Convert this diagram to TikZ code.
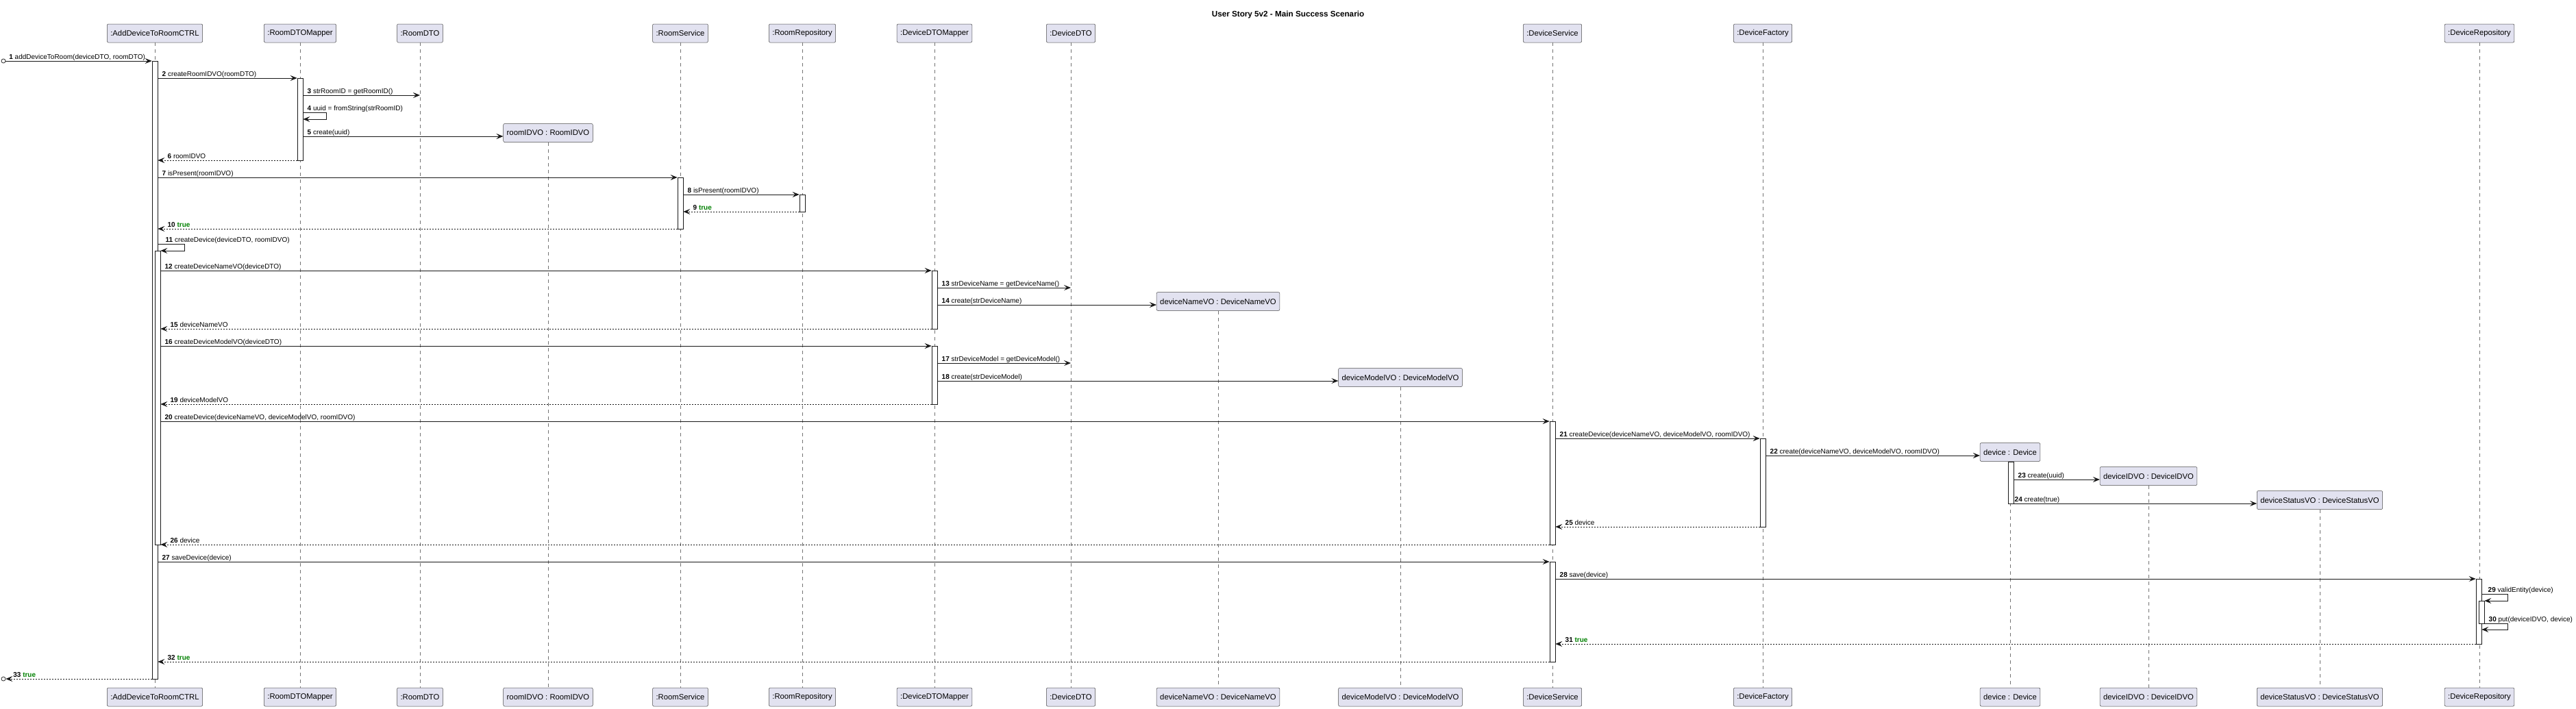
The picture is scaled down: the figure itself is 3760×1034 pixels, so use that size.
\documentclass[tikz,border=0pt]{standalone}
\usepackage{fontspec}
\setmainfont{Liberation Sans}
\usetikzlibrary{arrows.meta}
\definecolor{boxfill}{HTML}{E2E2F0}
\definecolor{ink}{HTML}{181818}
\definecolor{okgreen}{HTML}{008000}
\newcommand{\ok}{\textcolor{okgreen}{\textbf{true}}}
\begin{document}
\begin{tikzpicture}[x=1pt,y=-1pt]
        \tikzset{
            part/.style={draw=ink!80,fill=boxfill,line width=0.5pt,rounded corners=2pt,minimum height=27pt,inner xsep=5pt,font=\fontsize{11.3}{13}\selectfont},
            bar/.style={draw=ink,fill=white,line width=0.6pt,minimum width=8pt,inner sep=0pt,anchor=north},
            life/.style={draw=ink!60,line width=0.4pt,dash pattern=on 5pt off 5pt},
            call/.style={draw=ink,line width=0.75pt,-{Stealth[length=10pt,width=8pt,inset=4pt]}},
            ret/.style={call,dash pattern=on 2pt off 2pt},
            msg/.style={anchor=base west,inner sep=0pt,xshift=6pt,yshift=3pt,font=\fontsize{10}{12}\selectfont},
            msgr/.style={anchor=base west,inner sep=0pt,xshift=14pt,yshift=3pt,font=\fontsize{10}{12}\selectfont},
            found/.style={draw=ink,line width=0.7pt,circle,minimum size=6pt,inner sep=0pt}
        }
        \useasboundingbox (0,0) rectangle (3760,1034);
        \node[font=\bfseries\fontsize{11.7}{14}\selectfont] (title) at (1880,21) {User Story 5v2 - Main Success Scenario};
        \node[part] (ctrl) at (226,48.5) {:AddDeviceToRoomCTRL};
        \node[part] (rmap) at (438,48.5) {:RoomDTOMapper};
        \node[part] (rdto) at (613,48.5) {:RoomDTO};
        \node[part] (ridvo) at (800,194) {roomIDVO : RoomIDVO};
        \node[part] (rsvc) at (993,48.5) {:RoomService};
        \node[part] (rrepo) at (1171,48.5) {:RoomRepository};
        \node[part] (dmap) at (1364,48.5) {:DeviceDTOMapper};
        \node[part] (ddto) at (1563,48.5) {:DeviceDTO};
        \node[part] (dnvo) at (1778,440) {deviceNameVO : DeviceNameVO};
        \node[part] (dmvo) at (2044,551) {deviceModelVO : DeviceModelVO};
        \node[part] (dsvc) at (2266,48.5) {:DeviceService};
        \node[part] (dfac) at (2573,48.5) {:DeviceFactory};
        \node[part] (dev) at (2934,660) {device : Device};
        \node[part] (didvo) at (3136,695) {deviceIDVO : DeviceIDVO};
        \node[part] (dsvo) at (3386,730) {deviceStatusVO : DeviceStatusVO};
        \node[part] (drepo) at (3619,48.5) {:DeviceRepository};
        \node[part] (ctrlb) at (226,1017.5) {:AddDeviceToRoomCTRL};
        \node[part] (rmapb) at (438,1017.5) {:RoomDTOMapper};
        \node[part] (rdtob) at (613,1017.5) {:RoomDTO};
        \node[part] (ridvob) at (800,1017.5) {roomIDVO : RoomIDVO};
        \node[part] (rsvcb) at (993,1017.5) {:RoomService};
        \node[part] (rrepob) at (1171,1017.5) {:RoomRepository};
        \node[part] (dmapb) at (1364,1017.5) {:DeviceDTOMapper};
        \node[part] (ddtob) at (1563,1017.5) {:DeviceDTO};
        \node[part] (dnvob) at (1778,1017.5) {deviceNameVO : DeviceNameVO};
        \node[part] (dmvob) at (2044,1017.5) {deviceModelVO : DeviceModelVO};
        \node[part] (dsvcb) at (2266,1017.5) {:DeviceService};
        \node[part] (dfacb) at (2573,1017.5) {:DeviceFactory};
        \node[part] (devb) at (2934,1017.5) {device : Device};
        \node[part] (didvob) at (3136,1017.5) {deviceIDVO : DeviceIDVO};
        \node[part] (dsvob) at (3386,1017.5) {deviceStatusVO : DeviceStatusVO};
        \node[part] (drepob) at (3619,1017.5) {:DeviceRepository};
        \foreach \p in {ctrl,rmap,rdto,ridvo,rsvc,rrepo,dmap,ddto,dnvo,dmvo,dsvc,dfac,dev,didvo,dsvo,drepo}
            \draw[life] (\p) -- (\p b);
        \node[bar,minimum height=902pt] (actl) at (226,89) {};
        \node[bar,minimum height=429pt] (actl2) at (230,366) {};
        \node[bar,minimum height=120pt] (armap) at (438,114) {};
        \node[bar,minimum height=75pt] (arsvc) at (993,259) {};
        \node[bar,minimum height=25pt] (arrepo) at (1171,284) {};
        \node[bar,minimum height=85pt] (admap) at (1364,395) {};
        \node[bar,minimum height=85pt] (admap2) at (1364,505) {};
        \node[bar,minimum height=180pt] (adsvc) at (2266,615) {};
        \node[bar,minimum height=129pt] (adfac) at (2573,640) {};
        \node[bar,minimum height=61pt] (adev) at (2935,674) {};
        \node[bar,minimum height=146pt] (adsvc2) at (2266,820) {};
        \node[bar,minimum height=95pt] (adrepo) at (3618,845) {};
        \node[bar,minimum height=33pt] (adrepo2) at (3622,877) {};
        \node[found] (start) at (5,89) {};
        \node[found] (stop) at (5,991) {};
        \draw[call] (start) node[msg,xshift=2pt]{\textbf{1} addDeviceToRoom(deviceDTO, roomDTO)} -- (actl.west |- 0,89);
        \draw[call] (actl.east |- 0,114) node[msg]{\textbf{2} createRoomIDVO(roomDTO)} -- (armap.west |- 0,114);
        \draw[call] (armap.east |- 0,139) node[msg]{\textbf{3} strRoomID = getRoomID()} -- (rdto |- 0,139);
        \draw[call] (armap.east |- 0,164) node[msg]{\textbf{4} uuid = fromString(strRoomID)} -- ++(34,0) -- ++(0,10) -- (armap.east |- 0,174);
        \draw[call] (armap.east |- 0,199) node[msg]{\textbf{5} create(uuid)} -- (ridvo.west |- 0,199);
        \draw[ret] (armap.west |- 0,234) -- (actl.east |- 0,234) node[msgr]{\textbf{6} roomIDVO};
        \draw[call] (actl.east |- 0,259) node[msg]{\textbf{7} isPresent(roomIDVO)} -- (arsvc.west |- 0,259);
        \draw[call] (arsvc.east |- 0,284) node[msg]{\textbf{8} isPresent(roomIDVO)} -- (arrepo.west |- 0,284);
        \draw[ret] (arrepo.west |- 0,309) -- (arsvc.east |- 0,309) node[msgr]{\textbf{9} \ok};
        \draw[ret] (arsvc.west |- 0,334) -- (actl.east |- 0,334) node[msgr]{\textbf{10} \ok};
        \draw[call] (actl.east |- 0,356) node[msg,xshift=5pt]{\textbf{11} createDevice(deviceDTO, roomIDVO)} -- ++(39,0) -- ++(0,10) -- (actl2.east |- 0,366);
        \draw[call] (actl2.east |- 0,395) node[msg]{\textbf{12} createDeviceNameVO(deviceDTO)} -- (admap.west |- 0,395);
        \draw[call] (admap.east |- 0,420) node[msg]{\textbf{13} strDeviceName = getDeviceName()} -- (ddto |- 0,420);
        \draw[call] (admap.east |- 0,445) node[msg]{\textbf{14} create(strDeviceName)} -- (dnvo.west |- 0,445);
        \draw[ret] (admap.west |- 0,480) -- (actl2.east |- 0,480) node[msgr]{\textbf{15} deviceNameVO};
        \draw[call] (actl2.east |- 0,505) node[msg]{\textbf{16} createDeviceModelVO(deviceDTO)} -- (admap2.west |- 0,505);
        \draw[call] (admap2.east |- 0,530) node[msg]{\textbf{17} strDeviceModel = getDeviceModel()} -- (ddto |- 0,530);
        \draw[call] (admap2.east |- 0,556) node[msg]{\textbf{18} create(strDeviceModel)} -- (dmvo.west |- 0,556);
        \draw[ret] (admap2.west |- 0,590) -- (actl2.east |- 0,590) node[msgr]{\textbf{19} deviceModelVO};
        \draw[call] (actl2.east |- 0,615) node[msg]{\textbf{20} createDevice(deviceNameVO, deviceModelVO, roomIDVO)} -- (adsvc.west |- 0,615);
        \draw[call] (adsvc.east |- 0,640) node[msg]{\textbf{21} createDevice(deviceNameVO, deviceModelVO, roomIDVO)} -- (adfac.west |- 0,640);
        \draw[call] (adfac.east |- 0,665) node[msg]{\textbf{22} create(deviceNameVO, deviceModelVO, roomIDVO)} -- (dev.west |- 0,665);
        \draw[call] (adev.east |- 0,700) node[msg]{\textbf{23} create(uuid)} -- (didvo.west |- 0,700);
        \draw[call] (adev.east |- 0,735) node[msg,xshift=-5pt]{\textbf{24} create(true)} -- (dsvo.west |- 0,735);
        \draw[ret] (adfac.west |- 0,769) -- (adsvc.east |- 0,769) node[msgr]{\textbf{25} device};
        \draw[ret] (adsvc.west |- 0,795) -- (actl2.east |- 0,795) node[msgr]{\textbf{26} device};
        \draw[call] (actl.east |- 0,820) node[msg]{\textbf{27} saveDevice(device)} -- (adsvc2.west |- 0,820);
        \draw[call] (adsvc2.east |- 0,845) node[msg]{\textbf{28} save(device)} -- (adrepo.west |- 0,845);
        \draw[call] (adrepo.east |- 0,867) node[msg,xshift=3pt]{\textbf{29} validEntity(device)} -- ++(38,0) -- ++(0,10) -- (adrepo2.east |- 0,877);
        \draw[call] (adrepo2.east |- 0,910) node[msg]{\textbf{30} put(deviceIDVO, device)} -- ++(34,0) -- ++(0,9) -- (adrepo.east |- 0,919);
        \draw[ret] (adrepo.west |- 0,940) -- (adsvc2.east |- 0,940) node[msgr]{\textbf{31} \ok};
        \draw[ret] (adsvc2.west |- 0,966) -- (actl.east |- 0,966) node[msgr]{\textbf{32} \ok};
        \draw[ret] (actl.west |- 0,991) -- (stop) node[msgr]{\textbf{33} \ok};
    \end{tikzpicture}
\end{document}
